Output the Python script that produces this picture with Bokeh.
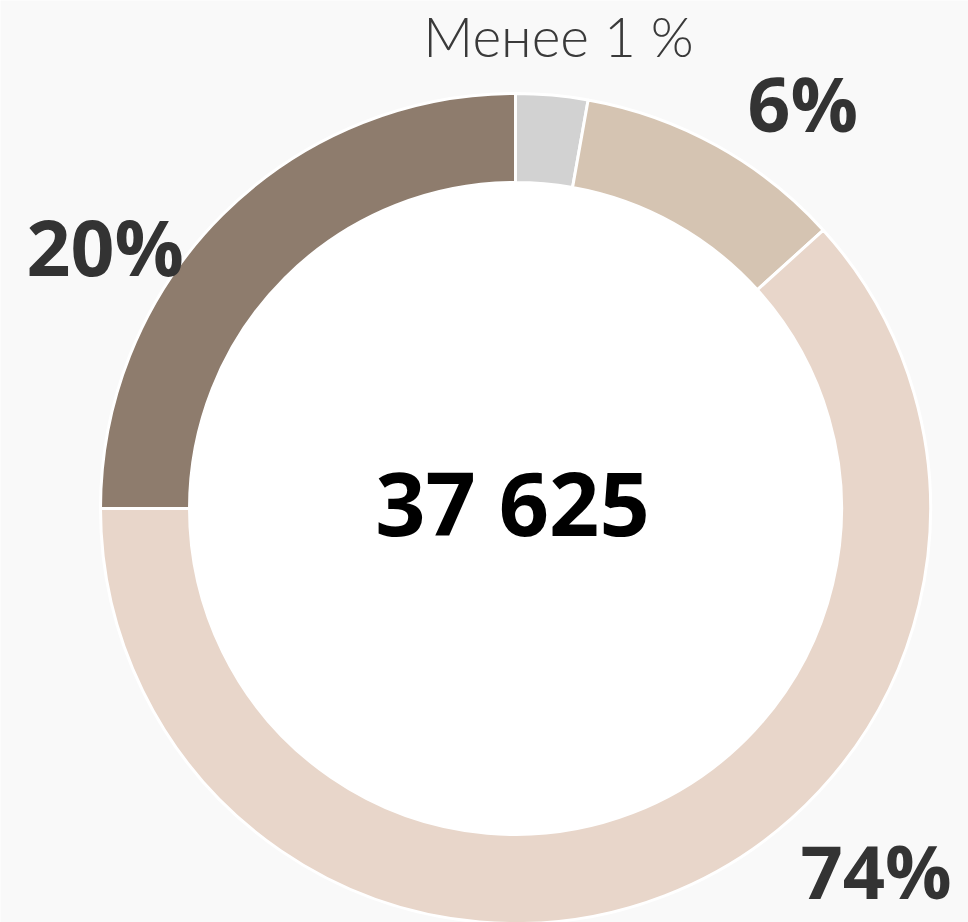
import numpy as np
from bokeh.plotting import figure
from bokeh.models import Range1d, ColumnDataSource
from bokeh.core.properties import value
from bokeh.embed import file_html
from bokeh.resources import INLINE

# data (drawn share of ring, clockwise from 12 o'clock)
segments = ["Менее 1 %", "6%", "74%", "20%"]
shares = [2.8, 10.5, 61.7, 25.0]
colors = ["#d2d2d2", "#d5c4b2", "#e8d6ca", "#8e7c6d"]
total_label = "37 625"

W, H = 968, 922
p = figure(width=W, height=H, output_backend="svg", toolbar_location=None,
           x_range=Range1d(0, W), y_range=Range1d(0, H), min_border=0)
p.axis.visible = False
p.grid.visible = False
p.outline_line_color = None
p.background_fill_color = "#f9f9f9"
p.border_fill_color = "#f9f9f9"

cx, cy = 515, H - 508
r_out, r_in = 415, 326

frac = np.array(shares) / np.sum(shares)
cum = np.concatenate([[0], np.cumsum(frac)]) * 2 * np.pi
src = ColumnDataSource(dict(
    start=np.pi / 2 - cum[:-1],
    end=np.pi / 2 - cum[1:],
    color=colors,
))
p.circle(x=[cx], y=[cy], radius=r_in, fill_color="white", line_color=None)
p.annular_wedge(x=cx, y=cy, inner_radius=r_in, outer_radius=r_out,
                start_angle="start", end_angle="end", direction="clock",
                fill_color="color", line_color="white", line_width=3, source=src)

def base(y_px, size):
    # place the text's baseline at pixel row y_px
    return H - y_px + 0.41 * size

p.text(x=[558], y=[base(58, 55)], text=[segments[0]], text_font=value("Lato Light"),
       text_font_size="55px", text_color="#3a3a3a", text_align="center",
       text_baseline="alphabetic")
bold = dict(text_font=value("Open Sans"), text_font_style="bold",
            text_color="#333333", text_baseline="alphabetic")
p.text(x=[747], y=[base(133, 75)], text=[segments[1]], text_font_size="75px",
       text_align="left", **bold)
p.text(x=[26], y=[base(277, 76)], text=[segments[3]], text_font_size="77px",
       text_align="left", **bold)
p.text(x=[800], y=[base(900, 74)], text=[segments[2]], text_font_size="74px",
       text_align="left", **bold)
p.text(x=[512], y=[base(538, 88)], text=[total_label], text_font=value("Open Sans"),
       text_font_style="bold", text_color="#000000", text_font_size="88px",
       text_align="center", text_baseline="alphabetic")

open("out.html", "w").write(file_html(p, INLINE))
